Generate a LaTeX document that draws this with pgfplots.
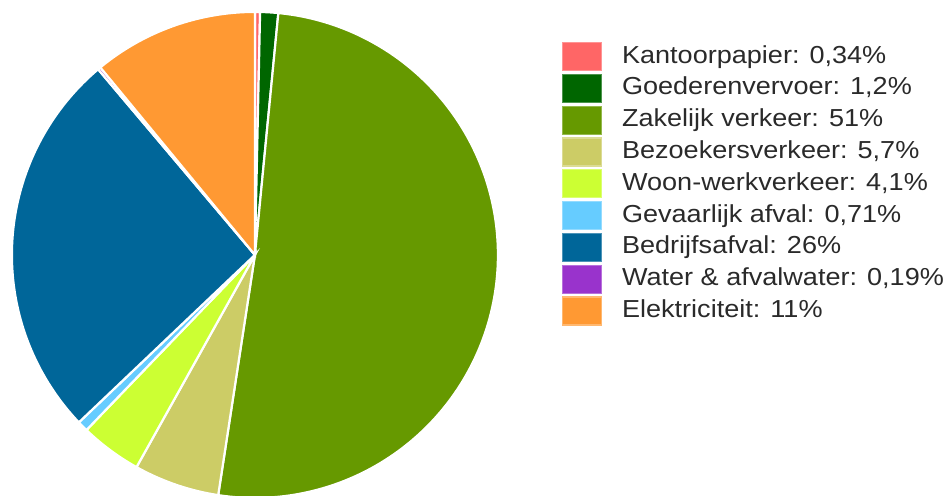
\documentclass[border=0pt]{standalone}
\usepackage{pgfplots}
\pgfplotsset{compat=1.18}
\usepackage{fontspec}
\setmainfont{Liberation Sans}[FakeStretch=1.1]
\definecolor{cKant}{HTML}{FF6666}
\definecolor{cGoed}{HTML}{006600}
\definecolor{cZak}{HTML}{669900}
\definecolor{cBez}{HTML}{CCCC66}
\definecolor{cWoon}{HTML}{CCFF33}
\definecolor{cGev}{HTML}{66CCFF}
\definecolor{cBed}{HTML}{006699}
\definecolor{cWat}{HTML}{9933CC}
\definecolor{cElek}{HTML}{FF9933}
\definecolor{txt}{HTML}{2A2A2A}
% angle of a cumulative share (percent), clockwise from 12 o'clock
\newcommand{\ang}[1]{90-360*(#1)/100.24}
\pgfplotsset{pie/.style={fill=#1, draw=white, line width=1.1pt, samples=80,
  legend image code/.code={\draw[fill=#1, draw=#1!70!white, line width=0.6pt] (0pt,-7pt) rectangle (19.5pt,7pt);}}}
\begin{document}
\begin{tikzpicture}
\useasboundingbox (0,0) rectangle (474pt,247.5pt);
\begin{axis}[at={(0,0)}, anchor=south west, scale only axis,
  width=474pt, height=247.5pt,
  xmin=-1.049, xmax=2.852, ymin=-0.988, ymax=1.049,
  hide axis, clip=true,
  legend cell align=left,
  legend style={at={(axis cs:1.263,0.8765)}, anchor=north west, draw=none, fill=none,
    inner sep=0pt, outer sep=0pt, row sep=1.3pt, column sep=10pt,
    font=\fontsize{12.3pt}{14pt}\selectfont, text=txt,
    nodes={inner sep=0pt, text height=9pt, text depth=2.5pt}}]
% shares: 0.34, 1.2, 51, 5.7, 4.1, 0.71, 26, 0.19, 11
\addplot[pie=cKant, domain={\ang{0.34}}:{\ang{0}}] ({cos(x)},{sin(x)}) -- (axis cs:0,0) -- cycle;
\addlegendentry{Kantoorpapier: 0,34\%}
\addplot[pie=cGoed, domain={\ang{1.54}}:{\ang{0.34}}] ({cos(x)},{sin(x)}) -- (axis cs:0,0) -- cycle;
\addlegendentry{Goederenvervoer: 1,2\%}
\addplot[pie=cZak, domain={\ang{52.54}}:{\ang{1.54}}, samples=200] ({cos(x)},{sin(x)}) -- (axis cs:0,0) -- cycle;
\addlegendentry{Zakelijk verkeer: 51\%}
\addplot[pie=cBez, domain={\ang{58.24}}:{\ang{52.54}}] ({cos(x)},{sin(x)}) -- (axis cs:0,0) -- cycle;
\addlegendentry{Bezoekersverkeer: 5,7\%}
\addplot[pie=cWoon, domain={\ang{62.34}}:{\ang{58.24}}] ({cos(x)},{sin(x)}) -- (axis cs:0,0) -- cycle;
\addlegendentry{Woon-werkverkeer: 4,1\%}
\addplot[pie=cGev, domain={\ang{63.05}}:{\ang{62.34}}] ({cos(x)},{sin(x)}) -- (axis cs:0,0) -- cycle;
\addlegendentry{Gevaarlijk afval: 0,71\%}
\addplot[pie=cBed, domain={\ang{89.05}}:{\ang{63.05}}, samples=150] ({cos(x)},{sin(x)}) -- (axis cs:0,0) -- cycle;
\addlegendentry{Bedrijfsafval: 26\%}
\addplot[pie=cWat, domain={\ang{89.24}}:{\ang{89.05}}] ({cos(x)},{sin(x)}) -- (axis cs:0,0) -- cycle;
\addlegendentry{Water \& afvalwater: 0,19\%}
\addplot[pie=cElek, domain={\ang{100.24}}:{\ang{89.24}}] ({cos(x)},{sin(x)}) -- (axis cs:0,0) -- cycle;
\addlegendentry{Elektriciteit: 11\%}
\end{axis}
\end{tikzpicture}
\end{document}
